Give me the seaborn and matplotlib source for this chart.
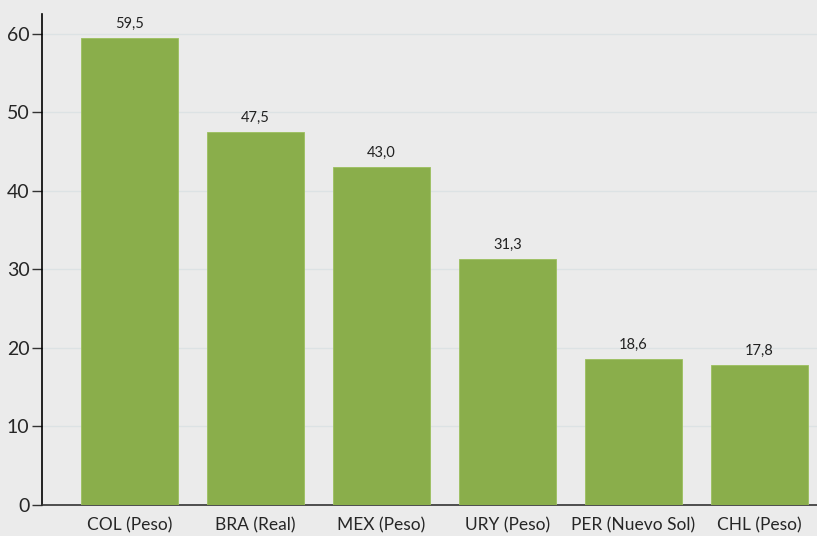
import matplotlib
matplotlib.use("Agg")
import matplotlib.pyplot as plt
import seaborn as sns
import pandas as pd

# Datos del gráfico
categorias = ['COL (Peso)', 'BRA (Real)', 'MEX (Peso)', 'URY (Peso)', 'PER (Nuevo Sol)', 'CHL (Peso)']
valores = [59.5, 47.5, 43.0, 31.3, 18.6, 17.8]

df = pd.DataFrame({'pais': categorias, 'valor': valores})

sns.set_style('white')
plt.rcParams['font.family'] = ['Lato', 'DejaVu Sans']

fig = plt.figure(figsize=(8.17, 5.36), dpi=100)
fig.set_facecolor('#ebebeb')
ax = fig.add_axes([42 / 817, 1 - 505 / 536, 1 - 42 / 817, (505 - 14) / 536])
ax.set_facecolor('#ebebeb')

sns.barplot(data=df, x='pais', y='valor', color='#8aae4b', saturation=1,
            width=0.77, ax=ax, zorder=3, edgecolor='#9cbf5e', linewidth=0.6)

# Etiquetas de valor con coma decimal
for i, v in enumerate(valores):
    ax.text(i, v + 0.9, f'{v:.1f}'.replace('.', ','), ha='center', va='bottom',
            fontsize=10.5, color='#222222')

ax.set_ylim(0, 62.5)
ax.set_xlim(-0.694, 5.456)
ax.set_yticks(range(0, 61, 10))
ax.yaxis.grid(True, color='#dce2e4', linewidth=1, zorder=0)
ax.set_axisbelow(True)

ax.set_xlabel('')
ax.set_ylabel('')
ax.tick_params(axis='y', length=7, width=1, color='#333333', labelsize=14, pad=2, left=True)
ax.tick_params(axis='x', length=0, labelsize=12.5, pad=9)

for s in ['top', 'right']:
    ax.spines[s].set_visible(False)
ax.spines['left'].set_color('#000000')
ax.spines['bottom'].set_color('#333333')
ax.spines['left'].set_linewidth(1.2)
ax.spines['bottom'].set_linewidth(1.2)

fig.savefig('out.png', dpi=100, facecolor=fig.get_facecolor())
